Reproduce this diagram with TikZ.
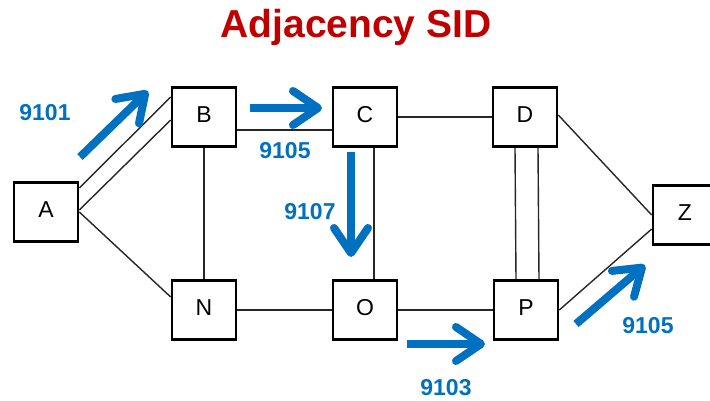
\documentclass[tikz,border=0pt]{standalone}
\usepackage{fontspec}
\setmainfont{Liberation Sans}
\usetikzlibrary{arrows.meta}
\definecolor{sidblue}{RGB}{0,112,192}
\definecolor{titlered}{RGB}{192,0,0}
\tikzset{
  router/.style={
    draw=black,
    line width=2.6pt,
    fill=white,
    minimum width=64pt,
    minimum height=59pt,
    inner sep=0pt,
    font=\fontsize{23}{26}\selectfont
  },
  link/.style={
    line width=1.4pt,
    color=black!85
  },
  sid arrow/.style={
    -{Straight Barb[length=25pt, width=34pt, round]},
    line width=8pt,
    color=sidblue
  },
  sid label/.style={
    font=\fontsize{23}{26}\bfseries,
    color=sidblue
  }
}

\begin{document}
\begin{tikzpicture}[x=1pt, y=-1pt]
    \useasboundingbox (0,0) rectangle (710,401);

    % 标题
    \node[anchor=base, font=\fontsize{39}{44}\bfseries, color=titlered] (title) at (356,38) {Adjacency SID};

    % 路由器
    \node[router] (A) at (46,212) {\raisebox{5pt}{A}};
    \node[router] (B) at (204,117) {\raisebox{5pt}{B}};
    \node[router] (C) at (365,117) {\raisebox{5pt}{C}};
    \node[router] (D) at (525,117) {\raisebox{5pt}{D}};
    \node[router] (N) at (204,310) {\raisebox{5pt}{N}};
    \node[router] (O) at (365,310) {\raisebox{5pt}{O}};
    \node[router] (P) at (526,310) {\raisebox{5pt}{P}};
    \node[router] (Z) at (685,215) {\raisebox{5pt}{Z}};

    % 链路
    \begin{scope}[on background layer/.try]
    \draw[link] ([yshift=24pt]A.east) -- ([yshift=20pt]B.west);
    \draw[link] ([yshift=2pt]A.east) -- ([yshift=-3pt]B.west);
    \draw[link] (A.east) -- ([yshift=13pt]N.west);
    \draw[link] ([yshift=-13pt]B.east) -- ([yshift=-13pt]C.west);
    \draw[link] (B.south) -- (N.north);
    \draw[link] (C.east) -- (D.west);
    \draw[link] ([xshift=9pt]C.south) -- ([xshift=9pt]O.north);
    \draw[link] ([xshift=-10pt]D.south) -- ([xshift=-10pt]P.north);
    \draw[link] ([xshift=13pt]D.south) -- ([xshift=13pt]P.north);
    \draw[link] (N.east) -- (O.west);
    \draw[link] (O.east) -- (P.west);
    \draw[link] ([yshift=2pt]D.east) -- (Z.west);
    \draw[link] (P.east) -- ([yshift=-14pt]Z.west);
    \end{scope}

    % SID 箭头
    \coordinate (s9101) at (80,157);
    \coordinate (t9101) at (148,91);
    \coordinate (s9105) at (250,108);
    \coordinate (t9105) at (322,108);
    \coordinate (s9107) at (351,152);
    \coordinate (t9107) at (351,257);
    \coordinate (s9103) at (407,344);
    \coordinate (t9103) at (485,344);
    \coordinate (s9105z) at (576,324);
    \coordinate (t9105z) at (645,265);
    \draw[sid arrow] (s9101) -- (t9101);
    \draw[sid arrow] (s9105) -- (t9105);
    \draw[sid arrow] (s9107) -- (t9107);
    \draw[sid arrow] (s9103) -- (t9103);
    \draw[sid arrow] (s9105z) -- (t9105z);

    % SID 标签
    \node[sid label] (l9101) at (45,113) {9101};
    \node[sid label] (l9105) at (285,151) {9105};
    \node[sid label] (l9107) at (310,212) {9107};
    \node[sid label] (l9103) at (446,388) {9103};
    \node[sid label] (l9105z) at (648,326) {9105};
\end{tikzpicture}
\end{document}
